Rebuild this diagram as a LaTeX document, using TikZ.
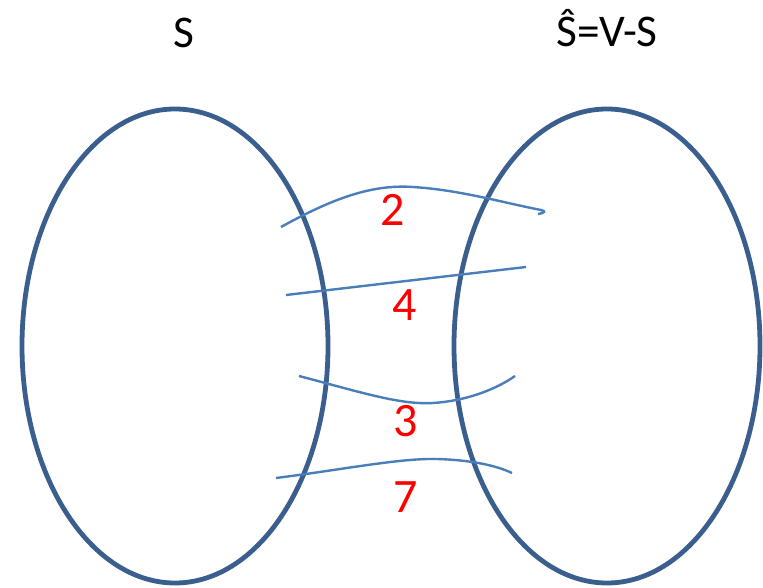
\documentclass[tikz,border=0pt]{standalone}
\usepackage{fontspec}
\setmainfont{Carlito}
\usetikzlibrary{shapes.geometric}
\definecolor{setblue}{HTML}{3A5F8F}
\definecolor{edgeblue}{HTML}{4A7EBB}
\tikzset{
  setoval/.style={ellipse, draw=setblue, line width=3.6pt, inner sep=0pt,
    minimum width=229.5pt, minimum height=355.5pt},
  cutedge/.style={draw=edgeblue, line width=1.8pt},
  weight/.style={text=red, anchor=base, inner sep=0pt, font=\fontsize{36}{42}\selectfont},
  setlabel/.style={text=black, anchor=base, inner sep=0pt, font=\fontsize{34}{40}\selectfont}
}
\begin{document}
\begin{tikzpicture}[x=0.75pt,y=-0.75pt]
\useasboundingbox (0,0) rectangle (763,588);
\node[setoval] (left) at (175,346) {};
\node[setoval] (right) at (607,346) {};
\node[setlabel] (lS) at (184,48) {S};
\node[setlabel] (lR) at (607,47) {Ŝ=V-S};
% crossing edges
\coordinate (a1) at (281,227);
\coordinate (a2) at (413,187);
\coordinate (a3) at (541,210);
\coordinate (a4) at (538,214);
\draw[cutedge] (a1) .. controls (330,200) and (370,184) .. (a2)
  .. controls (460,190) and (500,202) .. (a3)
  .. controls (546,211) and (545,213) .. (a4);
\coordinate (b1) at (286,295);
\coordinate (b2) at (526,267);
\draw[cutedge] (b1) -- (b2);
\coordinate (c1) at (299,376);
\coordinate (c2) at (433,403);
\coordinate (c3) at (515,376);
\draw[cutedge] (c1) .. controls (360,392) and (400,405) .. (c2)
  .. controls (465,401) and (495,390) .. (c3);
\coordinate (d1) at (276,478);
\coordinate (d2) at (437,459);
\coordinate (d3) at (512,473);
\draw[cutedge] (d1) .. controls (340,470) and (400,458) .. (d2)
  .. controls (470,460) and (495,465) .. (d3);
\node[weight] (w2) at (393,225) {2};
\node[weight] (w4) at (405,320) {4};
\node[weight] (w3) at (406,436) {3};
\node[weight] (w7) at (406,512) {7};
\end{tikzpicture}
\end{document}
